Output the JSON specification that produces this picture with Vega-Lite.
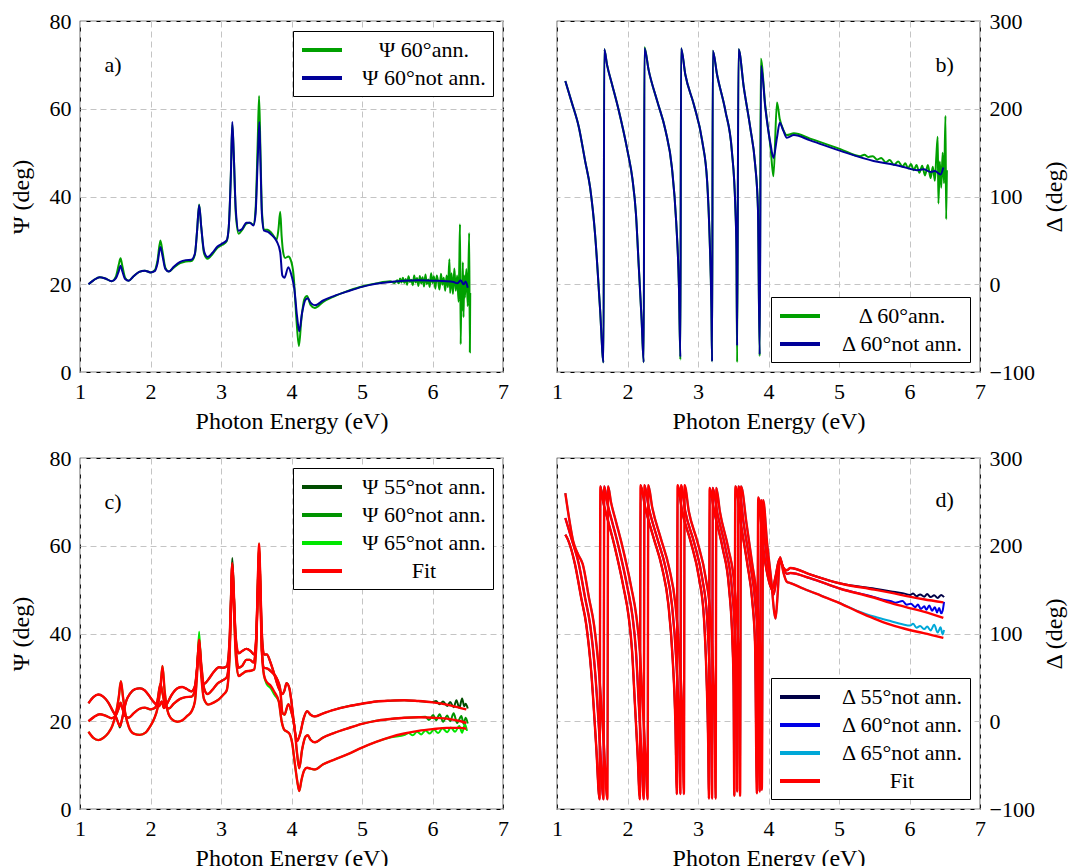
{
"$schema":"https://vega.github.io/schema/vega-lite/v6.json",
"background":"white",
"padding":{"left":8,"top":9,"right":0,"bottom":0},
"config":{
 "font":"Liberation Serif",
 "view":{"stroke":"black","strokeWidth":1.2},
 "axis":{"labelFont":"Liberation Serif","labelFontSize":22,"labelColor":"#000","titleFont":"Liberation Serif","titleFontSize":24,"titleFontWeight":"normal","titleColor":"#000","ticks":false,"domain":false,"gridColor":"#c4c4c4","gridDash":[6,4],"gridWidth":1,"labelPadding":9,"labelFlush":false,"labelOverlap":false},
 "axisX":{"titlePadding":7},
 "axisY":{"titlePadding":16},
 "legend":{"labelFont":"Liberation Serif","labelFontSize":22,"labelColor":"#000","symbolType":"M-2,0L2,0","symbolStrokeWidth":4,"symbolSize":400,"symbolOffset":10,"strokeColor":"#000","fillColor":"#fff","padding":7,"offset":10,"rowPadding":5,"labelAlign":"center","labelOffset":90,"title":null},
 "line":{"strokeWidth":4,"interpolate":"monotone","clip":true},
 "text":{"font":"Liberation Serif","fontSize":22,"color":"#000"}
},
"spacing":12,
"resolve":{"scale":{"color":"independent"},"legend":{"color":"independent"}},
"vconcat":[
{"hconcat":[
 {"width":423,"height":351,
  "encoding":{"x":{"field":"x","type":"quantitative","scale":{"domain":[1,7],"nice":false},"axis":{"values":[1,2,3,4,5,6,7],"format":"d","title":"Photon Energy (eV)"}}},
  "layer":[
   {"data":{"name":"a1"},"mark":{"type":"line","strokeWidth":2},"encoding":{"y":{"field":"y","type":"quantitative","scale":{"domain":[0,80],"nice":false},"axis":{"values":[0,20,40,60,80],"format":"d","title":"Ψ (deg)"}},"color":{"datum":"Ψ 60°ann.","type":"nominal","scale":{"domain":["Ψ 60°ann.","Ψ 60°not ann."],"range":["#00a000","#000099"]},"legend":{"orient":"top-right"}}}},
   {"data":{"name":"a2"},"mark":{"type":"line","strokeWidth":2},"encoding":{"y":{"field":"y","type":"quantitative","scale":{"domain":[0,80],"nice":false},"axis":{"values":[0,20,40,60,80],"format":"d","title":"Ψ (deg)"}},"color":{"datum":"Ψ 60°not ann.","type":"nominal","scale":{"domain":["Ψ 60°ann.","Ψ 60°not ann."],"range":["#00a000","#000099"]},"legend":{"orient":"top-right"}}}},
   {"data":{"values":[{"x":1.47,"y":70,"t":"a)"}]},"mark":"text","encoding":{"y":{"field":"y","type":"quantitative","scale":{"domain":[0,80],"nice":false},"axis":{"values":[0,20,40,60,80],"format":"d","title":"Ψ (deg)"}},"text":{"field":"t"}}}
  ]},
 {"width":423,"height":351,
  "encoding":{"x":{"field":"x","type":"quantitative","scale":{"domain":[1,7],"nice":false},"axis":{"values":[1,2,3,4,5,6,7],"format":"d","title":"Photon Energy (eV)"}}},
  "layer":[
   {"data":{"name":"b1"},"mark":{"type":"line","strokeWidth":2},"encoding":{"y":{"field":"y","type":"quantitative","scale":{"domain":[-100,300],"nice":false},"axis":{"orient":"right","values":[-100,0,100,200,300],"format":"d","title":"Δ (deg)","titleAngle":270,"titleBaseline":"top","titlePadding":8}},"color":{"datum":"Δ 60°ann.","type":"nominal","scale":{"domain":["Δ 60°ann.","Δ 60°not ann."],"range":["#00a000","#000099"]},"legend":{"orient":"bottom-right"}}}},
   {"data":{"name":"b2"},"mark":{"type":"line","strokeWidth":2},"encoding":{"y":{"field":"y","type":"quantitative","scale":{"domain":[-100,300],"nice":false},"axis":{"orient":"right","values":[-100,0,100,200,300],"format":"d","title":"Δ (deg)","titleAngle":270,"titleBaseline":"top","titlePadding":8}},"color":{"datum":"Δ 60°not ann.","type":"nominal","scale":{"domain":["Δ 60°ann.","Δ 60°not ann."],"range":["#00a000","#000099"]},"legend":{"orient":"bottom-right"}}}},
   {"data":{"values":[{"x":6.5,"y":250,"t":"b)"}]},"mark":"text","encoding":{"y":{"field":"y","type":"quantitative","scale":{"domain":[-100,300],"nice":false},"axis":{"orient":"right","values":[-100,0,100,200,300],"format":"d","title":"Δ (deg)","titleAngle":270,"titleBaseline":"top","titlePadding":8}},"text":{"field":"t"}}}
  ]}
 ],"spacing":40,"resolve":{"scale":{"color":"independent"},"legend":{"color":"independent"}}},
{"hconcat":[
 {"width":423,"height":351,
  "encoding":{"x":{"field":"x","type":"quantitative","scale":{"domain":[1,7],"nice":false},"axis":{"values":[1,2,3,4,5,6,7],"format":"d","title":"Photon Energy (eV)"}}},
  "layer":[
   {"data":{"name":"c55"},"transform":[{"filter":"isValid(datum.y)"}],"mark":{"type":"line","strokeWidth":2},"encoding":{"y":{"field":"y","type":"quantitative","scale":{"domain":[0,80],"nice":false},"axis":{"values":[0,20,40,60,80],"format":"d","title":"Ψ (deg)"}},"color":{"datum":"Ψ 55°not ann.","type":"nominal","scale":{"domain":["Ψ 55°not ann.","Ψ 60°not ann.","Ψ 65°not ann.","Fit"],"range":["#004d00","#009400","#00e600","#ff0000"]},"legend":{"orient":"top-right"}}}},
   {"data":{"name":"c60"},"transform":[{"filter":"isValid(datum.y)"}],"mark":{"type":"line","strokeWidth":2},"encoding":{"y":{"field":"y","type":"quantitative","scale":{"domain":[0,80],"nice":false},"axis":{"values":[0,20,40,60,80],"format":"d","title":"Ψ (deg)"}},"color":{"datum":"Ψ 60°not ann.","type":"nominal","scale":{"domain":["Ψ 55°not ann.","Ψ 60°not ann.","Ψ 65°not ann.","Fit"],"range":["#004d00","#009400","#00e600","#ff0000"]},"legend":{"orient":"top-right"}}}},
   {"data":{"name":"c65"},"transform":[{"filter":"isValid(datum.y)"}],"mark":{"type":"line","strokeWidth":2},"encoding":{"y":{"field":"y","type":"quantitative","scale":{"domain":[0,80],"nice":false},"axis":{"values":[0,20,40,60,80],"format":"d","title":"Ψ (deg)"}},"color":{"datum":"Ψ 65°not ann.","type":"nominal","scale":{"domain":["Ψ 55°not ann.","Ψ 60°not ann.","Ψ 65°not ann.","Fit"],"range":["#004d00","#009400","#00e600","#ff0000"]},"legend":{"orient":"top-right"}}}},
   {"data":{"name":"c55"},"transform":[{"filter":"isValid(datum.f)"}],"mark":{"type":"line","strokeWidth":2.4},"encoding":{"y":{"field":"f","type":"quantitative","scale":{"domain":[0,80],"nice":false},"axis":{"values":[0,20,40,60,80],"format":"d","title":"Ψ (deg)"}},"color":{"datum":"Fit","type":"nominal","scale":{"domain":["Ψ 55°not ann.","Ψ 60°not ann.","Ψ 65°not ann.","Fit"],"range":["#004d00","#009400","#00e600","#ff0000"]},"legend":{"orient":"top-right"}}}},
   {"data":{"name":"c60"},"transform":[{"filter":"isValid(datum.f)"}],"mark":{"type":"line","strokeWidth":2.4},"encoding":{"y":{"field":"f","type":"quantitative","scale":{"domain":[0,80],"nice":false},"axis":{"values":[0,20,40,60,80],"format":"d","title":"Ψ (deg)"}},"color":{"datum":"Fit","type":"nominal","scale":{"domain":["Ψ 55°not ann.","Ψ 60°not ann.","Ψ 65°not ann.","Fit"],"range":["#004d00","#009400","#00e600","#ff0000"]},"legend":{"orient":"top-right"}}}},
   {"data":{"name":"c65"},"transform":[{"filter":"isValid(datum.f)"}],"mark":{"type":"line","strokeWidth":2.4},"encoding":{"y":{"field":"f","type":"quantitative","scale":{"domain":[0,80],"nice":false},"axis":{"values":[0,20,40,60,80],"format":"d","title":"Ψ (deg)"}},"color":{"datum":"Fit","type":"nominal","scale":{"domain":["Ψ 55°not ann.","Ψ 60°not ann.","Ψ 65°not ann.","Fit"],"range":["#004d00","#009400","#00e600","#ff0000"]},"legend":{"orient":"top-right"}}}},
   {"data":{"values":[{"x":1.47,"y":70,"t":"c)"}]},"mark":"text","encoding":{"y":{"field":"y","type":"quantitative","scale":{"domain":[0,80],"nice":false},"axis":{"values":[0,20,40,60,80],"format":"d","title":"Ψ (deg)"}},"text":{"field":"t"}}}
  ]},
 {"width":423,"height":351,
  "encoding":{"x":{"field":"x","type":"quantitative","scale":{"domain":[1,7],"nice":false},"axis":{"values":[1,2,3,4,5,6,7],"format":"d","title":"Photon Energy (eV)"}}},
  "layer":[
   {"data":{"name":"d55"},"transform":[{"filter":"isValid(datum.y)"}],"mark":{"type":"line","strokeWidth":2},"encoding":{"y":{"field":"y","type":"quantitative","scale":{"domain":[-100,300],"nice":false},"axis":{"orient":"right","values":[-100,0,100,200,300],"format":"d","title":"Δ (deg)","titleAngle":270,"titleBaseline":"top","titlePadding":8}},"color":{"datum":"Δ 55°not ann.","type":"nominal","scale":{"domain":["Δ 55°not ann.","Δ 60°not ann.","Δ 65°not ann.","Fit"],"range":["#000046","#0000e6","#00a8d8","#ff0000"]},"legend":{"orient":"bottom-right"}}}},
   {"data":{"name":"d60"},"transform":[{"filter":"isValid(datum.y)"}],"mark":{"type":"line","strokeWidth":2},"encoding":{"y":{"field":"y","type":"quantitative","scale":{"domain":[-100,300],"nice":false},"axis":{"orient":"right","values":[-100,0,100,200,300],"format":"d","title":"Δ (deg)","titleAngle":270,"titleBaseline":"top","titlePadding":8}},"color":{"datum":"Δ 60°not ann.","type":"nominal","scale":{"domain":["Δ 55°not ann.","Δ 60°not ann.","Δ 65°not ann.","Fit"],"range":["#000046","#0000e6","#00a8d8","#ff0000"]},"legend":{"orient":"bottom-right"}}}},
   {"data":{"name":"d65"},"transform":[{"filter":"isValid(datum.y)"}],"mark":{"type":"line","strokeWidth":2},"encoding":{"y":{"field":"y","type":"quantitative","scale":{"domain":[-100,300],"nice":false},"axis":{"orient":"right","values":[-100,0,100,200,300],"format":"d","title":"Δ (deg)","titleAngle":270,"titleBaseline":"top","titlePadding":8}},"color":{"datum":"Δ 65°not ann.","type":"nominal","scale":{"domain":["Δ 55°not ann.","Δ 60°not ann.","Δ 65°not ann.","Fit"],"range":["#000046","#0000e6","#00a8d8","#ff0000"]},"legend":{"orient":"bottom-right"}}}},
   {"data":{"name":"d55"},"transform":[{"filter":"isValid(datum.f)"}],"mark":{"type":"line","strokeWidth":2.4},"encoding":{"y":{"field":"f","type":"quantitative","scale":{"domain":[-100,300],"nice":false},"axis":{"orient":"right","values":[-100,0,100,200,300],"format":"d","title":"Δ (deg)","titleAngle":270,"titleBaseline":"top","titlePadding":8}},"color":{"datum":"Fit","type":"nominal","scale":{"domain":["Δ 55°not ann.","Δ 60°not ann.","Δ 65°not ann.","Fit"],"range":["#000046","#0000e6","#00a8d8","#ff0000"]},"legend":{"orient":"bottom-right"}}}},
   {"data":{"name":"d60"},"transform":[{"filter":"isValid(datum.f)"}],"mark":{"type":"line","strokeWidth":2.4},"encoding":{"y":{"field":"f","type":"quantitative","scale":{"domain":[-100,300],"nice":false},"axis":{"orient":"right","values":[-100,0,100,200,300],"format":"d","title":"Δ (deg)","titleAngle":270,"titleBaseline":"top","titlePadding":8}},"color":{"datum":"Fit","type":"nominal","scale":{"domain":["Δ 55°not ann.","Δ 60°not ann.","Δ 65°not ann.","Fit"],"range":["#000046","#0000e6","#00a8d8","#ff0000"]},"legend":{"orient":"bottom-right"}}}},
   {"data":{"name":"d65"},"transform":[{"filter":"isValid(datum.f)"}],"mark":{"type":"line","strokeWidth":2.4},"encoding":{"y":{"field":"f","type":"quantitative","scale":{"domain":[-100,300],"nice":false},"axis":{"orient":"right","values":[-100,0,100,200,300],"format":"d","title":"Δ (deg)","titleAngle":270,"titleBaseline":"top","titlePadding":8}},"color":{"datum":"Fit","type":"nominal","scale":{"domain":["Δ 55°not ann.","Δ 60°not ann.","Δ 65°not ann.","Fit"],"range":["#000046","#0000e6","#00a8d8","#ff0000"]},"legend":{"orient":"bottom-right"}}}},
   {"data":{"values":[{"x":6.5,"y":252,"t":"d)"}]},"mark":"text","encoding":{"y":{"field":"y","type":"quantitative","scale":{"domain":[-100,300],"nice":false},"axis":{"orient":"right","values":[-100,0,100,200,300],"format":"d","title":"Δ (deg)","titleAngle":270,"titleBaseline":"top","titlePadding":8}},"text":{"field":"t"}}}
  ]}
 ],"spacing":40,"resolve":{"scale":{"color":"independent"},"legend":{"color":"independent"}}}
],
"datasets":{
"a2":[{"x":1.12,"y":20.0},{"x":1.2,"y":21.0},{"x":1.28,"y":21.6},{"x":1.36,"y":21.3},{"x":1.45,"y":20.7},{"x":1.51,"y":21.4},{"x":1.55,"y":23.0},{"x":1.575,"y":24.2},{"x":1.6,"y":23.0},{"x":1.64,"y":21.2},{"x":1.69,"y":20.8},{"x":1.76,"y":21.8},{"x":1.84,"y":22.8},{"x":1.92,"y":23.1},{"x":2.0,"y":22.7},{"x":2.06,"y":23.0},{"x":2.1,"y":24.8},{"x":2.14,"y":28.5},{"x":2.17,"y":26.5},{"x":2.21,"y":23.5},{"x":2.26,"y":22.9},{"x":2.33,"y":24.0},{"x":2.42,"y":25.1},{"x":2.5,"y":25.5},{"x":2.58,"y":25.6},{"x":2.63,"y":27.0},{"x":2.66,"y":32.0},{"x":2.69,"y":38.0},{"x":2.72,"y":33.0},{"x":2.76,"y":27.5},{"x":2.81,"y":26.2},{"x":2.88,"y":27.2},{"x":2.95,"y":28.6},{"x":3.02,"y":29.3},{"x":3.08,"y":30.0},{"x":3.11,"y":33.0},{"x":3.14,"y":45.0},{"x":3.16,"y":57.0},{"x":3.18,"y":50.0},{"x":3.21,"y":37.0},{"x":3.25,"y":32.2},{"x":3.3,"y":32.6},{"x":3.36,"y":34.0},{"x":3.41,"y":34.0},{"x":3.46,"y":33.4},{"x":3.49,"y":36.0},{"x":3.52,"y":48.0},{"x":3.544,"y":57.0},{"x":3.56,"y":48.0},{"x":3.58,"y":36.0},{"x":3.61,"y":32.2},{"x":3.66,"y":32.0},{"x":3.72,"y":31.2},{"x":3.79,"y":29.8},{"x":3.84,"y":27.3},{"x":3.87,"y":22.0},{"x":3.9,"y":21.5},{"x":3.955,"y":23.9},{"x":4.0,"y":22.0},{"x":4.04,"y":19.0},{"x":4.08,"y":12.5},{"x":4.11,"y":9.3},{"x":4.15,"y":13.5},{"x":4.2,"y":16.5},{"x":4.23,"y":16.8},{"x":4.27,"y":15.8},{"x":4.33,"y":15.2},{"x":4.45,"y":16.3},{"x":4.6,"y":17.3},{"x":4.8,"y":18.4},{"x":5.0,"y":19.4},{"x":5.2,"y":20.1},{"x":5.4,"y":20.5},{"x":5.6,"y":20.8},{"x":5.8,"y":20.9},{"x":6.0,"y":20.8},{"x":6.2,"y":20.7},{"x":6.3,"y":20.5},{"x":6.35,"y":20.2},{"x":6.4,"y":20.9},{"x":6.44,"y":20.0},{"x":6.47,"y":20.6},{"x":6.5,"y":19.2}],
"a1":[{"x":1.12,"y":20.0},{"x":1.2,"y":21.0},{"x":1.28,"y":21.6},{"x":1.36,"y":21.3},{"x":1.45,"y":20.7},{"x":1.51,"y":21.8},{"x":1.55,"y":24.5},{"x":1.575,"y":25.9},{"x":1.6,"y":24.2},{"x":1.64,"y":21.5},{"x":1.69,"y":20.8},{"x":1.76,"y":21.8},{"x":1.84,"y":22.8},{"x":1.92,"y":23.1},{"x":2.0,"y":22.7},{"x":2.06,"y":23.2},{"x":2.1,"y":25.5},{"x":2.14,"y":30.0},{"x":2.17,"y":27.5},{"x":2.21,"y":23.8},{"x":2.26,"y":22.9},{"x":2.33,"y":23.8},{"x":2.42,"y":24.8},{"x":2.5,"y":25.2},{"x":2.58,"y":25.3},{"x":2.63,"y":26.8},{"x":2.66,"y":32.0},{"x":2.69,"y":38.2},{"x":2.72,"y":33.0},{"x":2.76,"y":27.0},{"x":2.81,"y":25.8},{"x":2.88,"y":26.9},{"x":2.95,"y":28.3},{"x":3.02,"y":29.0},{"x":3.08,"y":29.8},{"x":3.11,"y":33.0},{"x":3.14,"y":45.0},{"x":3.16,"y":56.5},{"x":3.18,"y":50.0},{"x":3.21,"y":36.0},{"x":3.25,"y":31.5},{"x":3.3,"y":32.4},{"x":3.36,"y":33.8},{"x":3.41,"y":34.0},{"x":3.46,"y":33.6},{"x":3.49,"y":37.0},{"x":3.52,"y":52.0},{"x":3.54,"y":62.9},{"x":3.56,"y":50.0},{"x":3.58,"y":37.0},{"x":3.61,"y":32.4},{"x":3.66,"y":32.4},{"x":3.72,"y":31.6},{"x":3.79,"y":30.2},{"x":3.815,"y":32.5},{"x":3.84,"y":36.5},{"x":3.86,"y":31.0},{"x":3.88,"y":27.5},{"x":3.91,"y":26.0},{"x":3.955,"y":26.3},{"x":3.99,"y":25.5},{"x":4.03,"y":22.0},{"x":4.07,"y":12.0},{"x":4.105,"y":5.9},{"x":4.14,"y":12.0},{"x":4.18,"y":16.5},{"x":4.22,"y":17.3},{"x":4.27,"y":15.3},{"x":4.33,"y":14.6},{"x":4.45,"y":16.0},{"x":4.6,"y":17.2},{"x":4.8,"y":18.5},{"x":5.0,"y":19.5},{"x":5.2,"y":20.2},{"x":5.4,"y":20.7},{"x":5.46,"y":20.3},{"x":5.5,"y":20.9},{"x":5.52,"y":20.2},{"x":5.54,"y":21.3},{"x":5.56,"y":20.4},{"x":5.58,"y":21.5},{"x":5.6,"y":20.3},{"x":5.62,"y":21.2},{"x":5.64,"y":19.9},{"x":5.66,"y":21.8},{"x":5.68,"y":20.5},{"x":5.7,"y":21.0},{"x":5.72,"y":19.8},{"x":5.74,"y":22.0},{"x":5.76,"y":20.4},{"x":5.78,"y":21.4},{"x":5.8,"y":19.6},{"x":5.82,"y":21.9},{"x":5.84,"y":20.2},{"x":5.86,"y":21.6},{"x":5.88,"y":19.5},{"x":5.9,"y":22.2},{"x":5.92,"y":20.0},{"x":5.94,"y":21.1},{"x":5.96,"y":19.4},{"x":5.98,"y":22.5},{"x":6.0,"y":20.3},{"x":6.02,"y":21.8},{"x":6.04,"y":19.0},{"x":6.06,"y":22.0},{"x":6.08,"y":20.6},{"x":6.1,"y":18.8},{"x":6.12,"y":22.4},{"x":6.14,"y":19.9},{"x":6.16,"y":21.5},{"x":6.18,"y":18.5},{"x":6.2,"y":22.0},{"x":6.22,"y":19.3},{"x":6.24,"y":25.7},{"x":6.25,"y":18.0},{"x":6.27,"y":22.5},{"x":6.29,"y":17.8},{"x":6.31,"y":23.6},{"x":6.33,"y":18.5},{"x":6.35,"y":22.0},{"x":6.37,"y":16.0},{"x":6.38,"y":24.5},{"x":6.39,"y":33.7},{"x":6.4,"y":6.3},{"x":6.41,"y":20.5},{"x":6.42,"y":14.0},{"x":6.43,"y":25.0},{"x":6.44,"y":12.5},{"x":6.45,"y":22.0},{"x":6.46,"y":17.0},{"x":6.48,"y":23.5},{"x":6.5,"y":15.0},{"x":6.52,"y":31.7},{"x":6.53,"y":4.5},{"x":6.535,"y":18.0}],
"b2":[{"x":1.118,"y":231.6},{"x":1.21,"y":207},{"x":1.31,"y":179},{"x":1.4,"y":140},{"x":1.47,"y":110},{"x":1.54,"y":57},{"x":1.61,"y":-27},{"x":1.66,"y":-89},{"x":1.67,"y":267.7},{"x":1.71,"y":250},{"x":1.78,"y":228},{"x":1.87,"y":200},{"x":2.0,"y":152},{"x":2.07,"y":120},{"x":2.12,"y":80},{"x":2.16,"y":20},{"x":2.2,"y":-40},{"x":2.23,"y":-89},{"x":2.24,"y":269},{"x":2.3,"y":244},{"x":2.42,"y":209},{"x":2.54,"y":175},{"x":2.63,"y":133},{"x":2.69,"y":72},{"x":2.73,"y":-4},{"x":2.75,"y":-83},{"x":2.76,"y":269},{"x":2.82,"y":239},{"x":2.94,"y":205},{"x":3.06,"y":163},{"x":3.13,"y":117},{"x":3.165,"y":53},{"x":3.19,"y":-27},{"x":3.2,"y":-88},{"x":3.21,"y":266},{"x":3.27,"y":239},{"x":3.39,"y":197},{"x":3.48,"y":152},{"x":3.53,"y":87},{"x":3.545,"y":40},{"x":3.555,"y":-70},{"x":3.575,"y":267.7},{"x":3.65,"y":224},{"x":3.74,"y":179},{"x":3.81,"y":137},{"x":3.85,"y":87},{"x":3.875,"y":-80},{"x":3.895,"y":249},{"x":3.955,"y":201},{"x":4.03,"y":159},{"x":4.07,"y":144},{"x":4.12,"y":167},{"x":4.16,"y":184},{"x":4.21,"y":175},{"x":4.26,"y":167},{"x":4.36,"y":170},{"x":4.59,"y":164},{"x":5.02,"y":152},{"x":5.49,"y":140.5},{"x":5.73,"y":137},{"x":5.9,"y":134},{"x":6.11,"y":130},{"x":6.2,"y":131},{"x":6.3,"y":128},{"x":6.36,"y":129},{"x":6.44,"y":125},{"x":6.48,"y":133}],
"b1":[{"x":1.118,"y":231.6},{"x":1.21,"y":207},{"x":1.31,"y":179},{"x":1.4,"y":140},{"x":1.47,"y":110},{"x":1.54,"y":57},{"x":1.61,"y":-27},{"x":1.66,"y":-89},{"x":1.67,"y":267.7},{"x":1.71,"y":250},{"x":1.78,"y":228},{"x":1.87,"y":200},{"x":2.0,"y":152},{"x":2.07,"y":120},{"x":2.12,"y":80},{"x":2.16,"y":20},{"x":2.2,"y":-40},{"x":2.23,"y":-89},{"x":2.24,"y":270},{"x":2.3,"y":244},{"x":2.42,"y":209},{"x":2.54,"y":175},{"x":2.63,"y":133},{"x":2.69,"y":72},{"x":2.73,"y":-4},{"x":2.75,"y":-86},{"x":2.76,"y":269},{"x":2.82,"y":239},{"x":2.94,"y":205},{"x":3.06,"y":163},{"x":3.13,"y":117},{"x":3.165,"y":53},{"x":3.19,"y":-27},{"x":3.2,"y":-88},{"x":3.21,"y":266},{"x":3.27,"y":239},{"x":3.39,"y":197},{"x":3.48,"y":152},{"x":3.53,"y":87},{"x":3.545,"y":40},{"x":3.555,"y":-89},{"x":3.575,"y":267.7},{"x":3.65,"y":224},{"x":3.74,"y":179},{"x":3.81,"y":137},{"x":3.85,"y":87},{"x":3.875,"y":-82},{"x":3.89,"y":257},{"x":3.955,"y":203},{"x":4.03,"y":155},{"x":4.07,"y":123},{"x":4.12,"y":207},{"x":4.16,"y":188},{"x":4.21,"y":176},{"x":4.26,"y":170},{"x":4.36,"y":172},{"x":4.59,"y":166},{"x":5.02,"y":154},{"x":5.3,"y":146},{"x":5.36,"y":147.5},{"x":5.42,"y":145},{"x":5.48,"y":146},{"x":5.54,"y":142},{"x":5.6,"y":144},{"x":5.66,"y":139},{"x":5.72,"y":141.5},{"x":5.78,"y":136},{"x":5.84,"y":140},{"x":5.9,"y":134},{"x":5.94,"y":138},{"x":5.98,"y":132},{"x":6.02,"y":137},{"x":6.06,"y":130},{"x":6.1,"y":136},{"x":6.14,"y":127},{"x":6.18,"y":135},{"x":6.22,"y":124},{"x":6.26,"y":136},{"x":6.3,"y":121},{"x":6.33,"y":134},{"x":6.36,"y":118},{"x":6.38,"y":145},{"x":6.4,"y":168},{"x":6.41,"y":92},{"x":6.43,"y":140},{"x":6.45,"y":110},{"x":6.47,"y":150},{"x":6.49,"y":115},{"x":6.51,"y":192},{"x":6.52,"y":74},{"x":6.53,"y":130}],
"c55":[{"x":1.12,"y":24.1,"f":24.1},{"x":1.19,"y":25.5,"f":25.5},{"x":1.26,"y":26.1,"f":26.1},{"x":1.33,"y":25.6,"f":25.6},{"x":1.4,"y":24.3,"f":24.3},{"x":1.46,"y":22.5,"f":22.5},{"x":1.51,"y":21.0,"f":21.0},{"x":1.545,"y":19.5,"f":19.5},{"x":1.565,"y":18.6,"f":18.9},{"x":1.59,"y":20.0,"f":20.0},{"x":1.62,"y":22.3,"f":22.3},{"x":1.66,"y":24.8,"f":24.8},{"x":1.71,"y":26.3,"f":26.3},{"x":1.78,"y":27.3,"f":27.3},{"x":1.85,"y":27.5,"f":27.5},{"x":1.92,"y":27.0,"f":27.0},{"x":1.99,"y":25.6,"f":25.6},{"x":2.05,"y":24.3,"f":24.3},{"x":2.12,"y":23.4,"f":23.4},{"x":2.16,"y":24.5,"f":24.5},{"x":2.19,"y":23.0,"f":23.0},{"x":2.22,"y":23.6,"f":23.6},{"x":2.3,"y":26.0,"f":26.0},{"x":2.38,"y":27.5,"f":27.5},{"x":2.45,"y":27.8,"f":27.8},{"x":2.52,"y":27.3,"f":27.3},{"x":2.58,"y":26.8,"f":26.8},{"x":2.63,"y":28.0,"f":28.0},{"x":2.66,"y":32.0,"f":32.0},{"x":2.69,"y":37.0,"f":37.0},{"x":2.72,"y":31.0,"f":31.0},{"x":2.76,"y":28.5,"f":28.5},{"x":2.82,"y":29.5,"f":29.5},{"x":2.9,"y":31.3,"f":31.3},{"x":2.97,"y":32.3,"f":32.3},{"x":3.03,"y":32.2,"f":32.2},{"x":3.08,"y":32.5,"f":32.5},{"x":3.12,"y":38,"f":38},{"x":3.14,"y":48,"f":47},{"x":3.16,"y":57.2,"f":55.5},{"x":3.18,"y":50,"f":49},{"x":3.21,"y":39,"f":39},{"x":3.25,"y":35.5,"f":35.5},{"x":3.3,"y":36.0,"f":36.0},{"x":3.36,"y":36.5,"f":36.5},{"x":3.42,"y":36.0,"f":36.0},{"x":3.47,"y":35.2,"f":35.2},{"x":3.5,"y":39,"f":39},{"x":3.52,"y":50,"f":50},{"x":3.54,"y":59,"f":59},{"x":3.56,"y":50,"f":50},{"x":3.58,"y":40,"f":40},{"x":3.61,"y":35.2,"f":35.2},{"x":3.65,"y":35.2,"f":35.2},{"x":3.7,"y":33.5,"f":33.5},{"x":3.76,"y":30.5,"f":30.5},{"x":3.82,"y":27.5,"f":27.5},{"x":3.87,"y":26.2,"f":26.2},{"x":3.9,"y":27.0,"f":27.0},{"x":3.93,"y":28.7,"f":28.7},{"x":3.97,"y":27.5,"f":27.5},{"x":4.01,"y":23.0,"f":23.0},{"x":4.05,"y":17.5,"f":17.5},{"x":4.08,"y":15.5,"f":15.5},{"x":4.12,"y":17.0,"f":17.0},{"x":4.17,"y":20.5,"f":20.5},{"x":4.22,"y":22.3,"f":22.3},{"x":4.27,"y":21.5,"f":21.5},{"x":4.33,"y":21.1,"f":21.1},{"x":4.45,"y":21.8,"f":21.8},{"x":4.6,"y":22.6,"f":22.6},{"x":4.8,"y":23.4,"f":23.4},{"x":5.0,"y":24.0,"f":24.0},{"x":5.2,"y":24.5,"f":24.5},{"x":5.4,"y":24.7,"f":24.7},{"x":5.6,"y":24.8,"f":24.8},{"x":5.8,"y":24.6,"f":24.6},{"x":6.0,"f":24.3},{"x":6.2,"f":23.8},{"x":6.4,"f":23.0},{"x":6.48,"f":22.7},{"x":6.01,"y":24.4},{"x":6.05,"y":24.6},{"x":6.1,"y":23.9},{"x":6.15,"y":24.5},{"x":6.21,"y":23.5},{"x":6.25,"y":24.4},{"x":6.3,"y":23.2},{"x":6.34,"y":24.8},{"x":6.38,"y":23.0},{"x":6.42,"y":25.2},{"x":6.45,"y":23.4},{"x":6.47,"y":24.0},{"x":6.5,"y":22.9}],
"c60":[{"x":1.12,"y":20.0,"f":20.0},{"x":1.2,"y":21.0,"f":21.0},{"x":1.28,"y":21.6,"f":21.6},{"x":1.36,"y":21.3,"f":21.3},{"x":1.45,"y":20.7,"f":20.7},{"x":1.51,"y":21.4,"f":21.4},{"x":1.55,"y":23.0,"f":23.0},{"x":1.575,"y":24.2,"f":24.2},{"x":1.6,"y":23.0,"f":23.0},{"x":1.64,"y":21.2,"f":21.2},{"x":1.69,"y":20.8,"f":20.8},{"x":1.76,"y":21.8,"f":21.8},{"x":1.84,"y":22.8,"f":22.8},{"x":1.92,"y":23.1,"f":23.1},{"x":2.0,"y":22.7,"f":22.7},{"x":2.06,"y":23.0,"f":23.0},{"x":2.1,"y":24.8,"f":24.8},{"x":2.14,"y":28.5,"f":28.5},{"x":2.17,"y":26.5,"f":26.5},{"x":2.21,"y":23.5,"f":23.5},{"x":2.26,"y":22.9,"f":22.9},{"x":2.33,"y":24.0,"f":24.0},{"x":2.42,"y":25.1,"f":25.1},{"x":2.5,"y":25.5,"f":25.5},{"x":2.58,"y":25.6,"f":25.6},{"x":2.63,"y":27.0,"f":27.0},{"x":2.66,"y":32.0,"f":32.0},{"x":2.69,"y":38.0,"f":38.0},{"x":2.72,"y":33.0,"f":33.0},{"x":2.76,"y":27.5,"f":27.5},{"x":2.81,"y":26.2,"f":26.2},{"x":2.88,"y":27.2,"f":27.2},{"x":2.95,"y":28.6,"f":28.6},{"x":3.02,"y":29.3,"f":29.3},{"x":3.08,"y":30.0,"f":30.0},{"x":3.11,"y":33.0,"f":33.0},{"x":3.14,"y":45.0,"f":45.0},{"x":3.16,"y":56.0,"f":56.0},{"x":3.18,"y":50.0,"f":50.0},{"x":3.21,"y":37.0,"f":37.0},{"x":3.25,"y":32.2,"f":32.2},{"x":3.3,"y":32.6,"f":32.6},{"x":3.36,"y":34.0,"f":34.0},{"x":3.41,"y":34.0,"f":34.0},{"x":3.46,"y":33.4,"f":33.4},{"x":3.49,"y":36.0,"f":36.0},{"x":3.52,"y":48.0,"f":48.0},{"x":3.544,"y":57.0,"f":57.0},{"x":3.56,"y":48.0,"f":48.0},{"x":3.58,"y":36.0,"f":36.0},{"x":3.61,"y":32.2,"f":32.2},{"x":3.66,"y":32.0,"f":32.0},{"x":3.72,"y":31.2,"f":31.2},{"x":3.79,"y":29.8,"f":29.8},{"x":3.84,"y":27.3,"f":27.3},{"x":3.87,"y":22.0,"f":22.0},{"x":3.9,"y":21.5,"f":21.5},{"x":3.955,"y":23.9,"f":23.9},{"x":4.0,"y":22.0,"f":22.0},{"x":4.04,"y":19.0,"f":19.0},{"x":4.08,"y":12.5,"f":12.5},{"x":4.11,"y":9.3,"f":9.3},{"x":4.15,"y":13.5,"f":13.5},{"x":4.2,"y":16.5,"f":16.5},{"x":4.23,"y":16.8,"f":16.8},{"x":4.27,"y":15.8,"f":15.8},{"x":4.33,"y":15.2,"f":15.2},{"x":4.45,"y":16.3,"f":16.3},{"x":4.6,"y":17.3,"f":17.3},{"x":4.8,"y":18.4,"f":18.4},{"x":5.0,"y":19.4,"f":19.4},{"x":5.2,"y":20.1,"f":20.1},{"x":5.4,"y":20.5,"f":20.5},{"x":5.6,"y":20.8,"f":20.8},{"x":5.8,"y":20.9,"f":20.9},{"x":6.0,"f":20.8},{"x":6.2,"f":20.6},{"x":6.4,"f":20.0},{"x":6.48,"f":19.6},{"x":5.9,"y":21.0},{"x":5.95,"y":20.3},{"x":6.01,"y":21.4},{"x":6.05,"y":20.2},{"x":6.1,"y":21.6},{"x":6.15,"y":19.9},{"x":6.21,"y":21.3},{"x":6.25,"y":20.0},{"x":6.3,"y":21.8},{"x":6.35,"y":19.6},{"x":6.41,"y":21.2},{"x":6.44,"y":19.4},{"x":6.47,"y":20.8},{"x":6.5,"y":19.5}],
"c65":[{"x":1.12,"y":17.6,"f":17.6},{"x":1.19,"y":16.2,"f":16.2},{"x":1.26,"y":15.7,"f":15.7},{"x":1.33,"y":16.2,"f":16.2},{"x":1.4,"y":17.3,"f":17.3},{"x":1.46,"y":19.0,"f":19.0},{"x":1.51,"y":21.8,"f":21.8},{"x":1.55,"y":25.5,"f":25.5},{"x":1.58,"y":29.1,"f":29.1},{"x":1.61,"y":25.5,"f":25.5},{"x":1.64,"y":22.0,"f":22.0},{"x":1.69,"y":18.8,"f":18.8},{"x":1.76,"y":17.2,"f":17.2},{"x":1.85,"y":16.9,"f":16.9},{"x":1.93,"y":17.4,"f":17.4},{"x":1.99,"y":18.7,"f":18.7},{"x":2.05,"y":20.5,"f":20.5},{"x":2.1,"y":23.0,"f":23.0},{"x":2.14,"y":27.5,"f":27.5},{"x":2.17,"y":32.6,"f":32.6},{"x":2.2,"y":27.0,"f":27.0},{"x":2.24,"y":22.5,"f":22.5},{"x":2.3,"y":20.5,"f":20.5},{"x":2.38,"y":19.9,"f":19.9},{"x":2.45,"y":20.2,"f":20.2},{"x":2.52,"y":21.2,"f":21.2},{"x":2.58,"y":22.2,"f":22.2},{"x":2.63,"y":24.5,"f":24.5},{"x":2.66,"y":31,"f":30.5},{"x":2.69,"y":40.4,"f":38.6},{"x":2.72,"y":31,"f":30.5},{"x":2.76,"y":25.0,"f":25.0},{"x":2.82,"y":23.8,"f":23.8},{"x":2.9,"y":24.3,"f":24.3},{"x":2.97,"y":25.0,"f":25.0},{"x":3.03,"y":26.0,"f":26.0},{"x":3.08,"y":27.0,"f":27.0},{"x":3.12,"y":34,"f":34},{"x":3.14,"y":45,"f":45},{"x":3.16,"y":54,"f":54},{"x":3.18,"y":47,"f":47},{"x":3.21,"y":35,"f":35},{"x":3.25,"y":30.3,"f":30.3},{"x":3.3,"y":30.8,"f":30.8},{"x":3.36,"y":31.4,"f":31.4},{"x":3.42,"y":31.5,"f":31.5},{"x":3.47,"y":31.8,"f":31.8},{"x":3.5,"y":37,"f":37},{"x":3.52,"y":50,"f":50},{"x":3.54,"y":60.5,"f":60.5},{"x":3.56,"y":50,"f":50},{"x":3.58,"y":36,"f":36},{"x":3.61,"y":30.5,"f":30.5},{"x":3.65,"y":28.4,"f":28.9},{"x":3.7,"y":27.6,"f":28.2},{"x":3.76,"y":26.0,"f":26.6},{"x":3.82,"y":24.5,"f":24.5},{"x":3.86,"y":20.0,"f":20.0},{"x":3.9,"y":18.0,"f":18.0},{"x":3.93,"y":17.7,"f":17.7},{"x":3.97,"y":17.2,"f":17.2},{"x":4.01,"y":15.0,"f":15.0},{"x":4.05,"y":10,"f":10},{"x":4.09,"y":5.5,"f":5.5},{"x":4.11,"y":4.1,"f":4.1},{"x":4.14,"y":6.5,"f":6.5},{"x":4.18,"y":8.8,"f":8.8},{"x":4.22,"y":9.4,"f":9.4},{"x":4.27,"y":9.2,"f":9.2},{"x":4.33,"y":9.0,"f":9.0},{"x":4.45,"y":10.2,"f":10.2},{"x":4.6,"y":11.2,"f":11.2},{"x":4.8,"y":12.5,"f":12.5},{"x":5.0,"y":14.0,"f":14.0},{"x":5.2,"y":15.3,"f":15.3},{"x":5.4,"y":16.3,"f":16.4},{"x":5.6,"f":17.2},{"x":5.8,"f":17.8},{"x":6.0,"f":18.2},{"x":6.2,"f":18.5},{"x":6.4,"f":18.5},{"x":6.48,"f":18.3},{"x":5.61,"y":16.9},{"x":5.66,"y":17.3},{"x":5.72,"y":16.8},{"x":5.78,"y":17.6},{"x":5.84,"y":17.0},{"x":5.9,"y":17.9},{"x":5.96,"y":17.2},{"x":6.02,"y":18.1},{"x":6.08,"y":17.3},{"x":6.14,"y":18.4},{"x":6.21,"y":17.5},{"x":6.26,"y":18.6},{"x":6.32,"y":17.6},{"x":6.38,"y":18.9},{"x":6.42,"y":17.4},{"x":6.46,"y":19.3},{"x":6.49,"y":17.8}],
"d55":[{"x":1.118,"y":212.6,"f":212.6},{"x":1.155,"y":207,"f":207},{"x":1.255,"y":179,"f":179},{"x":1.345,"y":140,"f":140},{"x":1.415,"y":110,"f":110},{"x":1.485,"y":57,"f":57},{"x":1.555,"y":-27,"f":-27},{"x":1.605,"y":-89,"f":-89},{"x":1.615,"y":267.7,"f":267.7},{"x":1.655,"y":250,"f":250},{"x":1.725,"y":228,"f":228},{"x":1.815,"y":200,"f":200},{"x":1.945,"y":152,"f":152},{"x":2.015,"y":120,"f":120},{"x":2.065,"y":80,"f":80},{"x":2.105,"y":20,"f":20},{"x":2.145,"y":-40,"f":-40},{"x":2.175,"y":-89,"f":-89},{"x":2.185,"y":269,"f":269},{"x":2.25,"y":244,"f":244},{"x":2.37,"y":209,"f":209},{"x":2.49,"y":175,"f":175},{"x":2.58,"y":133,"f":133},{"x":2.64,"y":72,"f":72},{"x":2.68,"y":-4,"f":-4},{"x":2.7,"y":-83,"f":-83},{"x":2.71,"y":269,"f":269},{"x":2.775,"y":239,"f":239},{"x":2.895,"y":205,"f":205},{"x":3.015,"y":163,"f":163},{"x":3.085,"y":117,"f":117},{"x":3.12,"y":53,"f":53},{"x":3.145,"y":-27,"f":-27},{"x":3.155,"y":-88,"f":-88},{"x":3.165,"y":266,"f":266},{"x":3.23,"y":239,"f":239},{"x":3.35,"y":197,"f":197},{"x":3.44,"y":152,"f":152},{"x":3.49,"y":87,"f":87},{"x":3.505,"y":40,"f":40},{"x":3.515,"y":-85,"f":-85},{"x":3.53,"y":267.7,"f":267.7},{"x":3.61,"y":224,"f":224},{"x":3.7,"y":179,"f":179},{"x":3.77,"y":137,"f":137},{"x":3.81,"y":87,"f":87},{"x":3.835,"y":-82,"f":-82},{"x":3.855,"y":255,"f":255},{"x":3.92,"y":201,"f":201},{"x":3.99,"y":165,"f":165},{"x":4.05,"y":150,"f":150},{"x":4.1,"y":165,"f":165},{"x":4.155,"y":185,"f":185},{"x":4.21,"y":175,"f":175},{"x":4.26,"y":172,"f":172},{"x":4.31,"y":174.6,"f":174.6},{"x":4.6,"y":167,"f":167},{"x":5.02,"y":157,"f":157},{"x":5.5,"f":150},{"x":5.73,"f":146.5},{"x":6.0,"f":142},{"x":6.2,"f":139},{"x":6.48,"f":135.4},{"x":5.51,"y":151},{"x":5.74,"y":148},{"x":5.9,"y":146},{"x":6.01,"y":144},{"x":6.05,"y":145.5},{"x":6.1,"y":142.5},{"x":6.15,"y":144.5},{"x":6.21,"y":142},{"x":6.25,"y":145},{"x":6.3,"y":141.5},{"x":6.35,"y":143.5},{"x":6.4,"y":140.5},{"x":6.45,"y":144},{"x":6.49,"y":141.5}],
"d60":[{"x":1.118,"y":231.6,"f":231.6},{"x":1.21,"y":207,"f":207},{"x":1.31,"y":179,"f":179},{"x":1.4,"y":140,"f":140},{"x":1.47,"y":110,"f":110},{"x":1.54,"y":57,"f":57},{"x":1.61,"y":-27,"f":-27},{"x":1.66,"y":-89,"f":-89},{"x":1.67,"y":267.7,"f":267.7},{"x":1.71,"y":250,"f":250},{"x":1.78,"y":228,"f":228},{"x":1.87,"y":200,"f":200},{"x":2.0,"y":152,"f":152},{"x":2.07,"y":120,"f":120},{"x":2.12,"y":80,"f":80},{"x":2.16,"y":20,"f":20},{"x":2.2,"y":-40,"f":-40},{"x":2.23,"y":-89,"f":-89},{"x":2.24,"y":269,"f":269},{"x":2.3,"y":244,"f":244},{"x":2.42,"y":209,"f":209},{"x":2.54,"y":175,"f":175},{"x":2.63,"y":133,"f":133},{"x":2.69,"y":72,"f":72},{"x":2.73,"y":-4,"f":-4},{"x":2.75,"y":-83,"f":-83},{"x":2.76,"y":269,"f":269},{"x":2.82,"y":239,"f":239},{"x":2.94,"y":205,"f":205},{"x":3.06,"y":163,"f":163},{"x":3.13,"y":117,"f":117},{"x":3.165,"y":53,"f":53},{"x":3.19,"y":-27,"f":-27},{"x":3.2,"y":-88,"f":-88},{"x":3.21,"y":266,"f":266},{"x":3.27,"y":239,"f":239},{"x":3.39,"y":197,"f":197},{"x":3.48,"y":152,"f":152},{"x":3.53,"y":87,"f":87},{"x":3.545,"y":40,"f":40},{"x":3.555,"y":-80,"f":-80},{"x":3.575,"y":267.7,"f":267.7},{"x":3.65,"y":224,"f":224},{"x":3.74,"y":179,"f":179},{"x":3.81,"y":137,"f":137},{"x":3.85,"y":87,"f":87},{"x":3.875,"y":-80,"f":-80},{"x":3.895,"y":252,"f":252},{"x":3.955,"y":201,"f":201},{"x":4.03,"y":159,"f":159},{"x":4.07,"y":144,"f":144},{"x":4.12,"y":167,"f":167},{"x":4.16,"y":185,"f":185},{"x":4.21,"y":175,"f":175},{"x":4.26,"y":168,"f":168},{"x":4.31,"y":168.9,"f":168.9},{"x":4.59,"y":163,"f":163},{"x":5.02,"y":151,"f":151},{"x":5.49,"f":141},{"x":5.73,"f":134.8},{"x":6.0,"f":129},{"x":6.2,"f":125},{"x":6.48,"f":117.7},{"x":5.5,"y":141.5},{"x":5.6,"y":139},{"x":5.74,"y":136.7},{"x":5.8,"y":135},{"x":5.9,"y":137},{"x":5.96,"y":132.9},{"x":6.02,"y":134},{"x":6.08,"y":130},{"x":6.12,"y":133},{"x":6.16,"y":128},{"x":6.21,"y":131},{"x":6.24,"y":127},{"x":6.28,"y":132},{"x":6.32,"y":126},{"x":6.36,"y":130},{"x":6.39,"y":124},{"x":6.42,"y":129},{"x":6.45,"y":123},{"x":6.47,"y":126},{"x":6.49,"y":136}],
"d65":[{"x":1.118,"y":260,"f":260},{"x":1.17,"y":232,"f":232},{"x":1.23,"y":205,"f":205},{"x":1.3,"y":190,"f":190},{"x":1.365,"y":179,"f":179},{"x":1.455,"y":140,"f":140},{"x":1.525,"y":110,"f":110},{"x":1.595,"y":57,"f":57},{"x":1.665,"y":-27,"f":-27},{"x":1.715,"y":-89,"f":-89},{"x":1.725,"y":267.7,"f":267.7},{"x":1.765,"y":250,"f":250},{"x":1.835,"y":228,"f":228},{"x":1.925,"y":200,"f":200},{"x":2.055,"y":152,"f":152},{"x":2.125,"y":120,"f":120},{"x":2.175,"y":80,"f":80},{"x":2.215,"y":20,"f":20},{"x":2.255,"y":-40,"f":-40},{"x":2.285,"y":-89,"f":-89},{"x":2.295,"y":269,"f":269},{"x":2.35,"y":244,"f":244},{"x":2.47,"y":209,"f":209},{"x":2.59,"y":175,"f":175},{"x":2.68,"y":133,"f":133},{"x":2.74,"y":72,"f":72},{"x":2.78,"y":-4,"f":-4},{"x":2.8,"y":-83,"f":-83},{"x":2.81,"y":269,"f":269},{"x":2.87,"y":239,"f":239},{"x":2.99,"y":205,"f":205},{"x":3.11,"y":163,"f":163},{"x":3.18,"y":117,"f":117},{"x":3.215,"y":53,"f":53},{"x":3.24,"y":-27,"f":-27},{"x":3.25,"y":-88,"f":-88},{"x":3.26,"y":266,"f":266},{"x":3.31,"y":239,"f":239},{"x":3.43,"y":197,"f":197},{"x":3.52,"y":152,"f":152},{"x":3.57,"y":87,"f":87},{"x":3.585,"y":40,"f":40},{"x":3.597,"y":-85,"f":-85},{"x":3.61,"y":267.7,"f":267.7},{"x":3.69,"y":224,"f":224},{"x":3.77,"y":179,"f":179},{"x":3.84,"y":137,"f":137},{"x":3.88,"y":87,"f":87},{"x":3.905,"y":-78,"f":-78},{"x":3.925,"y":252,"f":252},{"x":3.98,"y":203,"f":203},{"x":4.04,"y":160,"f":160},{"x":4.08,"y":125,"f":125},{"x":4.1,"y":117,"f":117},{"x":4.13,"y":145,"f":145},{"x":4.165,"y":187,"f":187},{"x":4.21,"y":170,"f":170},{"x":4.26,"y":159,"f":159},{"x":4.31,"y":157.5,"f":157.5},{"x":4.5,"y":151,"f":151},{"x":4.75,"y":143,"f":143},{"x":5.0,"y":135,"f":135},{"x":5.26,"f":125.3},{"x":5.5,"f":117},{"x":5.73,"f":110},{"x":6.0,"f":104},{"x":6.2,"f":100.5},{"x":6.48,"f":94.9},{"x":5.27,"y":125.5},{"x":5.51,"y":119},{"x":5.74,"y":113.9},{"x":5.9,"y":110.5},{"x":6.01,"y":109},{"x":6.05,"y":111},{"x":6.1,"y":106.5},{"x":6.15,"y":108.5},{"x":6.21,"y":105},{"x":6.25,"y":108},{"x":6.3,"y":103.5},{"x":6.35,"y":110},{"x":6.4,"y":101},{"x":6.44,"y":107},{"x":6.47,"y":99},{"x":6.49,"y":104}]
}
}
